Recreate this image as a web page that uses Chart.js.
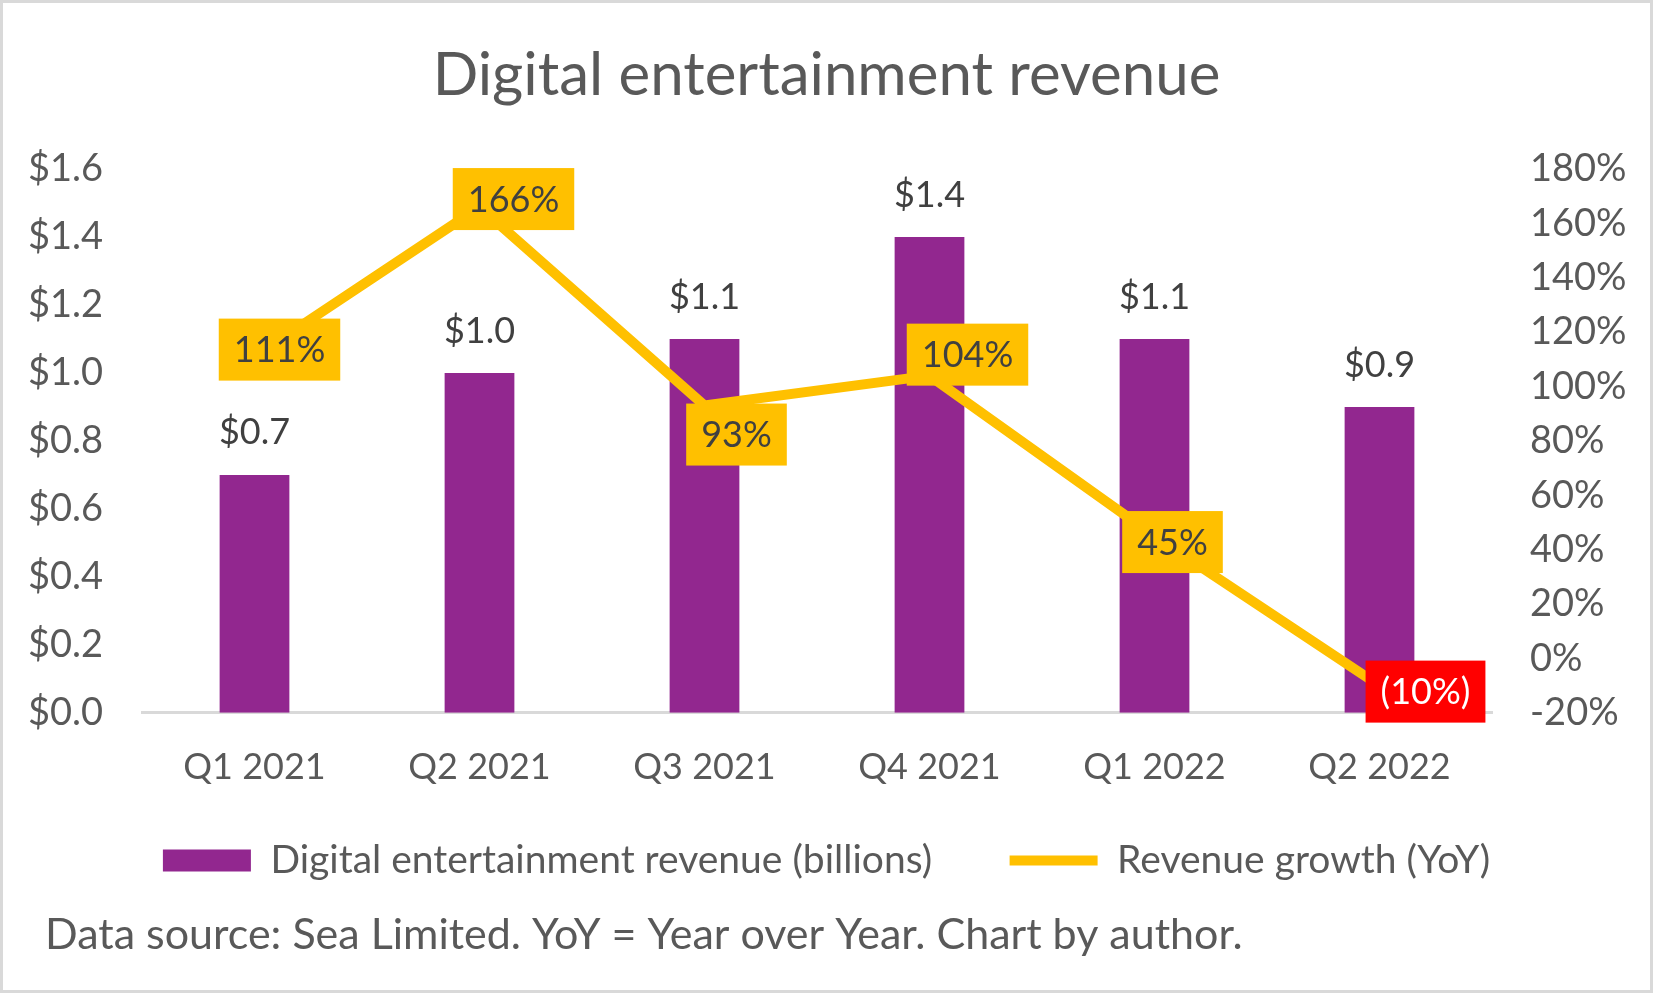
<!DOCTYPE html>
<html>
<head>
<meta charset="utf-8">
<script src="https://cdn.jsdelivr.net/npm/chart.js@4"></script>
<style>
  html, body { margin: 0; padding: 0; background: #fff; }
  #wrap {
    position: absolute; left: 0; top: 0;
    width: 1653px; height: 993px;
    box-sizing: border-box;
    border: 3px solid #d9d9d9;
  }
  #box { position: relative; width: 1647px; height: 987px; }
</style>
</head>
<body>
<div id="wrap"><div id="box"><canvas id="revenue_chart"></canvas></div></div>
<script>
// Quarters
var quarters = ['Q1 2021', 'Q2 2021', 'Q3 2021', 'Q4 2021', 'Q1 2022', 'Q2 2022'];

// Revenue in billions of dollars
var revenue_list = [0.7, 1.0, 1.1, 1.4, 1.1, 0.9];

// Growth year over year, percent
var growth_list = [111, 166, 93, 104, 45, -10];

// Text
var chart_title = 'Digital entertainment revenue';
var revenue_label = 'Digital entertainment revenue (billions)';
var growth_label = 'Revenue growth (YoY)';
var source_note = 'Data source: Sea Limited. YoY = Year over Year. Chart by author.';

Chart.defaults.font.family = 'Lato';
Chart.defaults.color = '#595959';

// Where each growth label box sits next to its point (pixels)
var growth_label_shift = [[25, -7], [34, -8], [32, 29], [38, -21], [18, 6], [46, 6]];

function growth_text(v) {
    return v < 0 ? '(' + Math.abs(v) + '%)' : v + '%';
}

// Labels for bars and line, and the footnote
var label_plugin = {
    id: 'value_labels',
    afterDatasetsDraw: function(chart) {
        var ctx = chart.ctx;
        ctx.save();
        ctx.font = '36px Lato';
        ctx.textAlign = 'center';
        ctx.textBaseline = 'middle';

        // Revenue above bars
        var bars = chart.getDatasetMeta(0).data;
        for (var i = 0; i < bars.length; i++) {
            ctx.fillStyle = '#404040';
            ctx.fillText('$' + revenue_list[i].toFixed(1), bars[i].x, bars[i].y - 42);
        }

        // Growth boxes on the line
        var points = chart.getDatasetMeta(1).data;
        for (var j = 0; j < points.length; j++) {
            var txt = growth_text(growth_list[j]);
            var w = ctx.measureText(txt).width + 30;
            var h = 62;
            var cx = points[j].x + growth_label_shift[j][0];
            var cy = points[j].y + growth_label_shift[j][1];
            ctx.fillStyle = growth_list[j] < 0 ? '#ff0000' : '#ffc000';
            ctx.fillRect(cx - w / 2, cy - h / 2, w, h);
            ctx.fillStyle = growth_list[j] < 0 ? '#ffffff' : '#404040';
            ctx.fillText(txt, cx, cy + 1);
        }
        ctx.restore();
    },
    afterDraw: function(chart) {
        var ctx = chart.ctx;
        ctx.save();
        ctx.font = '43px Lato';
        ctx.fillStyle = '#595959';
        ctx.textAlign = 'left';
        ctx.textBaseline = 'middle';
        ctx.fillText(source_note, 42, 932);
        ctx.restore();
    }
};

var ctx = document.getElementById('revenue_chart');
var revenue_chart = new Chart(ctx, {
    type: 'bar',
    data: {
        labels: quarters,
        datasets: [{
            type: 'bar',
            label: revenue_label,
            data: revenue_list,
            backgroundColor: '#92278f',
            borderWidth: 0,
            categoryPercentage: 1,
            barPercentage: 0.31,
            pointStyle: 'rect',
            yAxisID: 'y',
            order: 2
        }, {
            type: 'line',
            label: growth_label,
            data: growth_list,
            borderColor: '#ffc000',
            backgroundColor: '#ffc000',
            borderWidth: 10,
            tension: 0,
            pointRadius: 0,
            pointHoverRadius: 0,
            pointStyle: 'line',
            pointBorderColor: '#ffc000',
            pointBorderWidth: 10,
            yAxisID: 'y1',
            order: 1
        }]
    },
    options: {
        responsive: true,
        maintainAspectRatio: false,
        animation: false,
        events: [],
        layout: { padding: { left: 0, right: 0, top: 0, bottom: 100 } },
        scales: {
            x: {
                grid: { display: false, drawTicks: false },
                border: { display: true, color: '#d9d9d9', width: 3 },
                ticks: { font: { size: 36 }, color: '#595959', padding: 33, maxRotation: 0 }
            },
            y: {
                position: 'left',
                min: 0,
                max: 1.6,
                grid: { display: false, drawTicks: false },
                border: { display: false },
                ticks: {
                    stepSize: 0.2,
                    font: { size: 38 },
                    color: '#595959',
                    padding: 39,
                    callback: function(v) { return '$' + v.toFixed(1); }
                },
                afterFit: function(scale) { scale.width = 139; }
            },
            y1: {
                position: 'right',
                min: -20,
                max: 180,
                grid: { display: false, drawTicks: false },
                border: { display: false },
                ticks: {
                    stepSize: 20,
                    font: { size: 38 },
                    color: '#595959',
                    padding: 38,
                    callback: function(v) { return v + '%'; }
                },
                afterFit: function(scale) { scale.width = 158; }
            }
        },
        plugins: {
            title: {
                display: true,
                text: chart_title,
                color: '#595959',
                font: { size: 60, weight: 'normal' },
                padding: { top: 37, bottom: 57 }
            },
            legend: {
                position: 'bottom',
                labels: {
                    usePointStyle: true,
                    pointStyleWidth: 88,
                    boxHeight: 22,
                    padding: 19,
                    color: '#595959',
                    font: { size: 39 },
                    sort: function(a, b) { return a.datasetIndex - b.datasetIndex; },
                    generateLabels: function(chart) {
                        var items = Chart.defaults.plugins.legend.labels.generateLabels(chart);
                        // wider gap after the first item, like the original
                        items.forEach(function(it) {
                            if (it.datasetIndex === 0) it.text = it.text + '\u2003\u2003';
                        });
                        return items;
                    }
                }
            },
            tooltip: { enabled: false }
        }
    },
    plugins: [label_plugin]
});
</script>
</body>
</html>
